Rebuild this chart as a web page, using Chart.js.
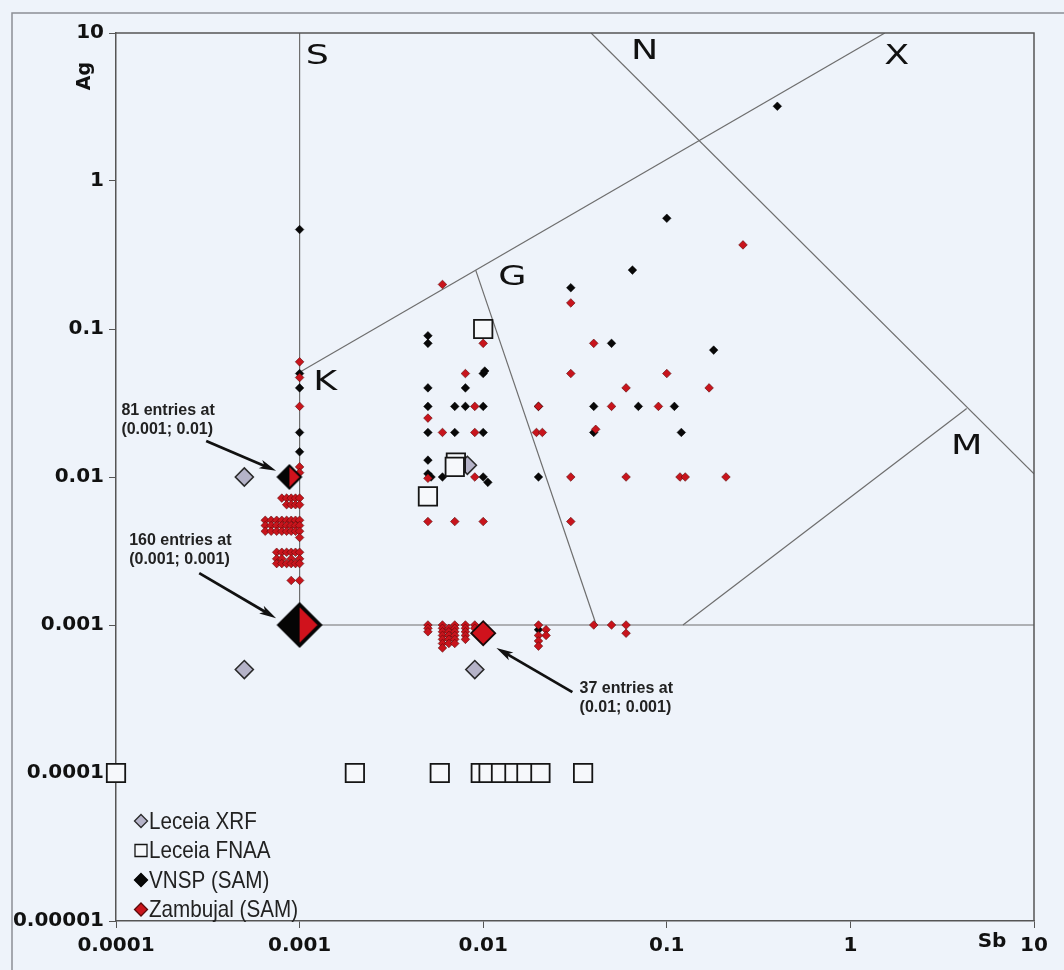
<!DOCTYPE html>
<html>
<head>
<meta charset="utf-8">
<script src="https://cdn.jsdelivr.net/npm/chart.js@4.4.1/dist/chart.umd.min.js"></script>
<style>
  html, body { margin: 0; padding: 0; background: #eef3fa; }
  canvas { display: block; }
</style>
</head>
<body>
<canvas id="sbAgChart" width="1064" height="970"></canvas>
<script>
// Sb vs Ag, log-log, with the classification fields

// Axis ticks
const xTicks = [0.0001, 0.001, 0.01, 0.1, 1, 10];
const xTickLabels = ['0.0001', '0.001', '0.01', '0.1', '1', '10'];
const yTicks = [0.00001, 0.0001, 0.001, 0.01, 0.1, 1, 10];
const yTickLabels = ['0.00001', '0.0001', '0.001', '0.01', '0.1', '1', '10'];

// Field boundaries [Sb, Ag]
const fieldS = [[0.001, 0.001], [0.001, 10]];
const fieldBase = [[0.001, 0.001], [10, 0.001]];
const fieldKX = [[0.001, 0.051], [1.54, 10]];
const fieldG = [[0.0091, 0.25], [0.0413, 0.001]];
const fieldN = [[0.0387, 10], [10, 0.0105]];
const fieldM = [[0.1225, 0.001], [4.3, 0.029]];

// Field letters
const fieldNames = ['S', 'N', 'X', 'G', 'K', 'M'];
const fieldNameSb = [0.00125, 0.0757, 1.79, 0.0144, 0.00138, 4.3];
const fieldNameAg = [6.9, 7.4, 6.9, 0.221, 0.043, 0.016];

// Leceia XRF
const leceiaXrf = [[0.0005, 0.01], [0.0005, 0.0005], [0.009, 0.0005], [0.0082, 0.012]];

// Leceia FNAA
const leceiaFnaa = [
  [0.0001, 0.0001], [0.002, 0.0001], [0.0058, 0.0001], [0.0097, 0.0001], [0.0107, 0.0001],
  [0.0125, 0.0001], [0.0148, 0.0001], [0.0172, 0.0001], [0.0205, 0.0001], [0.035, 0.0001],
  [0.01, 0.1], [0.0071, 0.0125], [0.007, 0.0117], [0.005, 0.0074]
];

// VNSP (SAM)
const vnspField = [
  [0.001, 0.47], [0.4, 3.2], [0.1, 0.56], [0.065, 0.25], [0.03, 0.19], [0.18, 0.072],
  [0.05, 0.08], [0.12, 0.02], [0.005, 0.09], [0.005, 0.08], [0.005, 0.04], [0.005, 0.03],
  [0.005, 0.02], [0.005, 0.013], [0.005, 0.0105], [0.0052, 0.01], [0.008, 0.04], [0.01, 0.05],
  [0.0102, 0.052], [0.007, 0.03], [0.008, 0.03], [0.01, 0.03], [0.007, 0.02], [0.01, 0.02],
  [0.006, 0.01], [0.01, 0.01], [0.0106, 0.0092], [0.02, 0.01], [0.02, 0.03], [0.04, 0.03],
  [0.07, 0.03], [0.11, 0.03], [0.04, 0.02]
];
const vnspNearS = [[0.001, 0.05], [0.001, 0.04], [0.001, 0.02], [0.001, 0.0148]];
const vnspBase = [[0.02, 0.00093]];

// Zambujal (SAM)
const zambujalField = [
  [0.26, 0.37], [0.006, 0.2], [0.03, 0.15], [0.01, 0.08], [0.04, 0.08], [0.008, 0.05],
  [0.03, 0.05], [0.1, 0.05], [0.06, 0.04], [0.17, 0.04], [0.009, 0.03], [0.02, 0.03],
  [0.05, 0.03], [0.09, 0.03], [0.005, 0.025], [0.006, 0.02], [0.009, 0.02], [0.0195, 0.02],
  [0.021, 0.02], [0.041, 0.021], [0.005, 0.0098], [0.009, 0.01], [0.03, 0.01], [0.06, 0.01],
  [0.118, 0.01], [0.126, 0.01], [0.21, 0.01], [0.005, 0.005], [0.007, 0.005], [0.01, 0.005],
  [0.03, 0.005]
];
const zambujalNearS = [
  [0.001, 0.06], [0.001, 0.047], [0.001, 0.03], [0.001, 0.0117], [0.001, 0.0107],
  [0.0008, 0.0072], [0.00085, 0.0072], [0.0009, 0.0072], [0.00095, 0.0072], [0.001, 0.0072],
  [0.00085, 0.0065], [0.0009, 0.0065], [0.00095, 0.0065], [0.001, 0.0065],
  [0.00065, 0.0051], [0.0007, 0.0051], [0.00075, 0.0051], [0.0008, 0.0051],
  [0.00085, 0.0051], [0.0009, 0.0051], [0.00095, 0.0051], [0.001, 0.0051],
  [0.00065, 0.0047], [0.0007, 0.0047], [0.00075, 0.0047], [0.0008, 0.0047],
  [0.00085, 0.0047], [0.0009, 0.0047], [0.00095, 0.0047], [0.001, 0.0047],
  [0.00065, 0.0043], [0.0007, 0.0043], [0.00075, 0.0043], [0.0008, 0.0043],
  [0.00085, 0.0043], [0.0009, 0.0043], [0.00095, 0.0043], [0.001, 0.0043],
  [0.001, 0.0039],
  [0.00075, 0.0031], [0.0008, 0.0031], [0.00085, 0.0031], [0.0009, 0.0031], [0.00095, 0.0031], [0.001, 0.0031],
  [0.00075, 0.0028], [0.0008, 0.0028], [0.0009, 0.0028], [0.001, 0.0028],
  [0.00075, 0.0026], [0.0008, 0.0026], [0.00085, 0.0026], [0.0009, 0.0026], [0.00095, 0.0026], [0.001, 0.0026],
  [0.0009, 0.002], [0.001, 0.002]
];
const zambujalBase = [
  [0.005, 0.001], [0.005, 0.00095], [0.005, 0.0009],
  [0.006, 0.001], [0.006, 0.00095], [0.006, 0.0009], [0.006, 0.00085], [0.006, 0.0008], [0.006, 0.00075], [0.006, 0.0007],
  [0.0065, 0.00095], [0.0065, 0.0009], [0.0065, 0.00085], [0.0065, 0.0008], [0.0065, 0.00075],
  [0.007, 0.001], [0.007, 0.00095], [0.007, 0.0009], [0.007, 0.00085], [0.007, 0.0008], [0.007, 0.00075],
  [0.008, 0.001], [0.008, 0.00095], [0.008, 0.0009], [0.008, 0.00085], [0.008, 0.0008],
  [0.009, 0.001], [0.009, 0.00095],
  [0.02, 0.001], [0.022, 0.00093], [0.022, 0.00085], [0.02, 0.00085], [0.02, 0.00078], [0.02, 0.00072],
  [0.04, 0.001], [0.05, 0.001], [0.06, 0.001], [0.06, 0.00088]
];

// Grouped entries (big markers)
const groupedBoth = [[0.00088, 0.01], [0.001, 0.001]];
const groupedZambujal = [[0.01, 0.00088]];

// Notes: text anchor, arrow start and arrow tip in [Sb, Ag]
const noteTexts = [['81 entries at', '(0.001; 0.01)'], ['160 entries at', '(0.001; 0.001)'], ['37 entries at', '(0.01; 0.001)']];
const noteAnchors = [[0.000107, 0.0279], [0.000118, 0.0037], [0.0335, 0.00037]];
const arrowFrom = [[0.00031, 0.0175], [0.000284, 0.00224], [0.0306, 0.000352]];
const arrowTo = [[0.000745, 0.011], [0.000745, 0.00111], [0.0118, 0.0007]];

const toXY = p => ({ x: p[0], y: p[1] });

function boundary(points) {
  return {
    data: points.map(toXY),
    showLine: true,
    pointRadius: 0,
    borderColor: '#6e6e6e',
    borderWidth: 1.2,
    order: 10
  };
}

// half black / half red diamond for grouped VNSP + Zambujal entries
function splitDiamond(r) {
  const c = document.createElement('canvas');
  const s = 2 * r + 4;
  c.width = s;
  c.height = s;
  const g = c.getContext('2d');
  const m = s / 2;
  g.beginPath();
  g.moveTo(m, m - r); g.lineTo(m + r, m); g.lineTo(m, m + r); g.lineTo(m - r, m);
  g.closePath();
  g.fillStyle = '#050505';
  g.fill();
  const k = r * 0.14;
  g.beginPath();
  g.moveTo(m, m - r + k * 1.6); g.lineTo(m + r - k * 1.6, m); g.lineTo(m, m + r - k * 1.6);
  g.closePath();
  g.fillStyle = '#d0121c';
  g.fill();
  return c;
}

function diamondPath(ctx, x, y, r) {
  ctx.beginPath();
  ctx.moveTo(x, y - r); ctx.lineTo(x + r, y); ctx.lineTo(x, y + r); ctx.lineTo(x - r, y);
  ctx.closePath();
}

function stretchedText(ctx, text, x, y, sx) {
  ctx.save();
  ctx.translate(x, y);
  ctx.scale(sx, 1);
  ctx.fillText(text, 0, 0);
  ctx.restore();
}

function drawArrow(ctx, x1, y1, x2, y2) {
  const a = Math.atan2(y2 - y1, x2 - x1);
  const cos = Math.cos(a), sin = Math.sin(a);
  const head = 17, hw = 4.5;
  ctx.strokeStyle = '#111';
  ctx.fillStyle = '#111';
  ctx.lineWidth = 2.8;
  ctx.beginPath();
  ctx.moveTo(x1, y1);
  ctx.lineTo(x2 - cos * head * 0.7, y2 - sin * head * 0.7);
  ctx.stroke();
  ctx.beginPath();
  ctx.moveTo(x2, y2);
  ctx.lineTo(x2 - cos * head - sin * hw, y2 - sin * head + cos * hw);
  ctx.lineTo(x2 - cos * head * 0.75, y2 - sin * head * 0.75);
  ctx.lineTo(x2 - cos * head + sin * hw, y2 - sin * head - cos * hw);
  ctx.closePath();
  ctx.fill();
}

const backdrop = {
  id: 'backdrop',
  beforeDraw(chart) {
    const ctx = chart.ctx;
    ctx.save();
    ctx.fillStyle = '#eef3fa';
    ctx.fillRect(0, 0, chart.width, chart.height);
    ctx.strokeStyle = '#8c8f95';
    ctx.lineWidth = 1.5;
    ctx.strokeRect(12, 13, chart.width + 20, chart.height + 20);
    ctx.restore();
  }
};

const overlay = {
  id: 'overlay',
  afterDatasetsDraw(chart) {
    const { ctx, chartArea: a } = chart;
    const xs = chart.scales.x, ys = chart.scales.y;
    ctx.save();

    // top and right frame of the plot
    ctx.strokeStyle = '#555';
    ctx.lineWidth = 1.5;
    ctx.beginPath();
    ctx.moveTo(a.left, a.top); ctx.lineTo(a.right, a.top); ctx.lineTo(a.right, a.bottom);
    ctx.stroke();

    // field letters
    ctx.fillStyle = '#111';
    ctx.font = '27px "DejaVu Sans"';
    ctx.textAlign = 'center';
    ctx.textBaseline = 'middle';
    fieldNames.forEach((t, i) => {
      stretchedText(ctx, t, xs.getPixelForValue(fieldNameSb[i]), ys.getPixelForValue(fieldNameAg[i]), 1.35);
    });

    // notes with arrows
    ctx.font = 'bold 16px "Liberation Sans", Arial, sans-serif';
    ctx.textAlign = 'left';
    noteTexts.forEach((lines, i) => {
      const tx = xs.getPixelForValue(noteAnchors[i][0]);
      const ty = ys.getPixelForValue(noteAnchors[i][1]);
      ctx.fillStyle = '#222';
      lines.forEach((l, j) => ctx.fillText(l, tx, ty + j * 19));
      drawArrow(ctx,
        xs.getPixelForValue(arrowFrom[i][0]), ys.getPixelForValue(arrowFrom[i][1]),
        xs.getPixelForValue(arrowTo[i][0]), ys.getPixelForValue(arrowTo[i][1]));
    });

    // axis names
    ctx.fillStyle = '#111';
    ctx.font = 'bold 19px "DejaVu Sans"';
    ctx.textAlign = 'center';
    ctx.save();
    ctx.translate(a.left - 31, a.top + 43);
    ctx.rotate(-Math.PI / 2);
    ctx.fillText('Ag', 0, 0);
    ctx.restore();
    ctx.font = 'bold 20px "DejaVu Sans"';
    ctx.fillText('Sb', a.right - 42, a.bottom + 21);

    // legend inside the plot, bottom left
    const items = chart.data.datasets.filter(d => d.inLegend);
    ctx.font = '24px "Liberation Sans", sans-serif';
    ctx.textAlign = 'left';
    items.forEach((d, i) => {
      const mx = a.left + 25;
      const my = a.bottom - 100 + i * 29.5;
      ctx.fillStyle = d.backgroundColor;
      ctx.strokeStyle = d.borderColor;
      ctx.lineWidth = 1.3;
      if (d.pointStyle === 'rect') {
        ctx.beginPath();
        ctx.rect(mx - 6, my - 6, 12, 12);
      } else {
        diamondPath(ctx, mx, my, 6.5);
      }
      ctx.fill();
      ctx.stroke();
      ctx.fillStyle = '#222';
      stretchedText(ctx, d.label, mx + 8, my + 1, 0.86);
    });

    ctx.restore();
  }
};

const tickFont = { family: 'DejaVu Sans', weight: 'bold', size: 20 };

const ctx = document.getElementById('sbAgChart').getContext('2d');
const sbAgChart = new Chart(ctx, {
  type: 'scatter',
  data: {
    datasets: [
      boundary(fieldS),
      boundary(fieldBase),
      boundary(fieldKX),
      boundary(fieldG),
      boundary(fieldN),
      boundary(fieldM),
      {
        label: 'Leceia XRF',
        inLegend: true,
        data: leceiaXrf.map(toXY),
        pointStyle: 'rectRot',
        pointRadius: 9,
        backgroundColor: '#b5b3c8',
        borderColor: '#2a2a2a',
        borderWidth: 1.6,
        clip: false,
        order: 4
      },
      {
        label: 'Leceia FNAA',
        inLegend: true,
        data: leceiaFnaa.map(toXY),
        pointStyle: 'rect',
        pointRadius: 13,
        backgroundColor: '#f6f8fb',
        borderColor: '#151515',
        borderWidth: 1.8,
        clip: false,
        order: 3
      },
      {
        label: 'VNSP (SAM)',
        inLegend: true,
        data: [...vnspField, ...vnspNearS, ...vnspBase].map(toXY),
        pointStyle: 'rectRot',
        pointRadius: 4.3,
        backgroundColor: '#080808',
        borderColor: '#000',
        borderWidth: 0.5,
        clip: false,
        order: 6
      },
      {
        label: 'Zambujal (SAM)',
        inLegend: true,
        data: [...zambujalField, ...zambujalNearS, ...zambujalBase].map(toXY),
        pointStyle: 'rectRot',
        pointRadius: 4.3,
        backgroundColor: '#c8141c',
        borderColor: '#5a0a0a',
        borderWidth: 0.6,
        clip: false,
        order: 5
      },
      {
        label: 'grouped VNSP + Zambujal',
        data: groupedBoth.map(toXY),
        pointStyle: [splitDiamond(13), splitDiamond(23)],
        pointRadius: [13, 23],
        clip: false,
        order: 1
      },
      {
        label: 'grouped Zambujal',
        data: groupedZambujal.map(toXY),
        pointStyle: 'rectRot',
        pointRadius: 12,
        backgroundColor: '#d0121c',
        borderColor: '#1a0a0a',
        borderWidth: 1.8,
        clip: false,
        order: 2
      }
    ]
  },
  options: {
    responsive: false,
    animation: false,
    events: [],
    layout: { padding: { left: 0, top: 33, right: 30, bottom: 0 } },
    plugins: {
      legend: { display: false },
      tooltip: { enabled: false }
    },
    scales: {
      x: {
        type: 'logarithmic',
        min: 0.0001,
        max: 10,
        afterBuildTicks: s => { s.ticks = xTicks.map(v => ({ value: v })); },
        afterFit: s => { s.height = 49; s.paddingLeft = 0; s.paddingRight = 0; },
        border: { color: '#555', width: 1.5 },
        grid: { drawOnChartArea: false, drawTicks: true, tickLength: 7, color: '#555' },
        ticks: {
          autoSkip: false,
          maxRotation: 0,
          padding: 6,
          color: '#111',
          font: tickFont,
          callback: (v, i) => xTickLabels[i]
        }
      },
      y: {
        type: 'logarithmic',
        min: 0.00001,
        max: 10,
        afterBuildTicks: s => { s.ticks = yTicks.map(v => ({ value: v })); },
        afterFit: s => { s.width = 116; s.paddingTop = 0; s.paddingBottom = 0; },
        border: { color: '#555', width: 1.5 },
        grid: { drawOnChartArea: false, drawTicks: true, tickLength: 7, color: '#555' },
        ticks: {
          autoSkip: false,
          padding: 5,
          color: '#111',
          font: tickFont,
          callback: (v, i) => yTickLabels[i]
        }
      }
    }
  },
  plugins: [backdrop, overlay]
});
</script>
</body>
</html>
